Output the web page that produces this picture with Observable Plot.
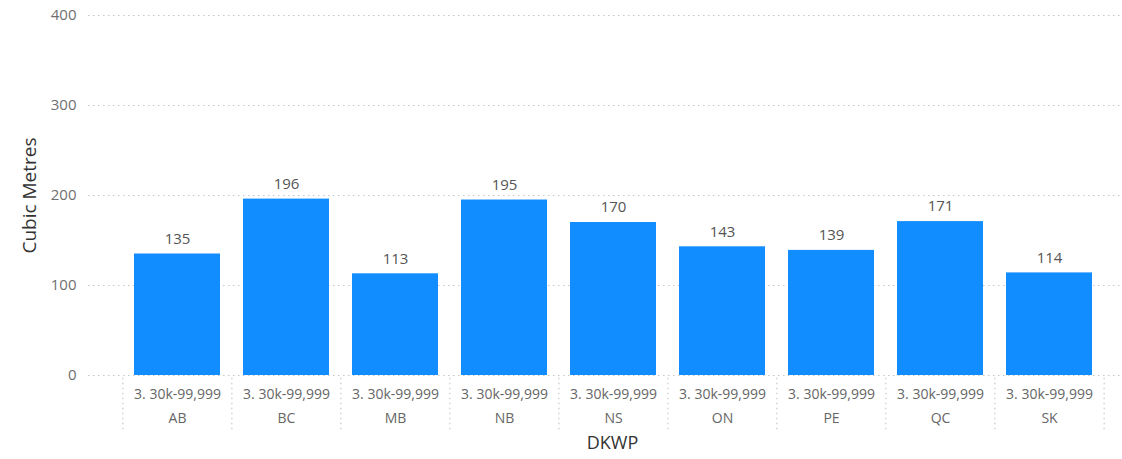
<!DOCTYPE html>
<html>
<head>
<meta charset="utf-8">
<script src="https://cdn.jsdelivr.net/npm/d3@7"></script>
<script src="https://cdn.jsdelivr.net/npm/@observablehq/plot@0.6"></script>
<style>
  html, body { margin: 0; padding: 0; background: #fff; }
  svg { display: block; }
</style>
</head>
<body>
<div id="chart"></div>
<script>
const provinces = ["AB", "BC", "MB", "NB", "NS", "ON", "PE", "QC", "SK"];
const values = [135, 196, 113, 195, 170, 143, 139, 171, 114];
const group = "3. 30k-99,999";
const yTicks = [0, 100, 200, 300, 400];
const yTitle = "Cubic Metres";
const xTitle = "DKWP";

const data = provinces.map((p, i) => ({province: p, value: values[i]}));
const FONT = "'Segoe UI', 'Open Sans', 'Noto Sans', sans-serif";
const step = (1104.6 - 120.85) / provinces.length;

const chart = Plot.plot({
  width: 1122,
  height: 459,
  marginLeft: 88,
  marginRight: 0,
  marginTop: 15,
  marginBottom: 84,
  style: {fontFamily: FONT, background: "#fff", overflow: "visible"},
  x: {domain: provinces, range: [120.85, 1104.6], paddingInner: 0.21, paddingOuter: 0.105},
  y: {domain: [0, 400], range: [375, 15]},
  marks: [
    Plot.gridY(yTicks, {stroke: "#c8c8c8", strokeOpacity: 1, strokeDasharray: "1.5,3.5", strokeWidth: 1.2}),
    Plot.axisY(yTicks, {tickSize: 0, tickPadding: 12, fontSize: 15, fill: "#707070", label: null}),
    Plot.barY(data, {x: "province", y: "value", fill: "#118DFF"}),
    Plot.text(data, {x: "province", y: "value", text: d => String(d.value), dy: -15, fontSize: 15, fill: "#555"}),
    Plot.axisX(provinces, {tickSize: 0, tickPadding: 7, fontSize: 14, fill: "#666", lineHeight: 1.7, label: null,
      tickFormat: d => `${group}\n${d}`}),
    Plot.ruleX(provinces, {x: d => d, dx: -step / 2, y1: -3, y2: -61, stroke: "#c8c8c8", strokeDasharray: "1.5,3.5", strokeWidth: 1.2}),
    Plot.ruleX(provinces.slice(-1), {x: d => d, dx: step / 2, y1: -3, y2: -61, stroke: "#c8c8c8", strokeDasharray: "1.5,3.5", strokeWidth: 1.2}),
    Plot.text([yTitle], {frameAnchor: "left", textAnchor: "middle", rotate: -90, dx: -59, fontSize: 19, fill: "#333"}),
    Plot.text([xTitle], {frameAnchor: "bottom", textAnchor: "middle", dx: 7, dy: 73, fontSize: 18, fill: "#333"})
  ]
});
document.getElementById("chart").appendChild(chart);
</script>
</body>
</html>
